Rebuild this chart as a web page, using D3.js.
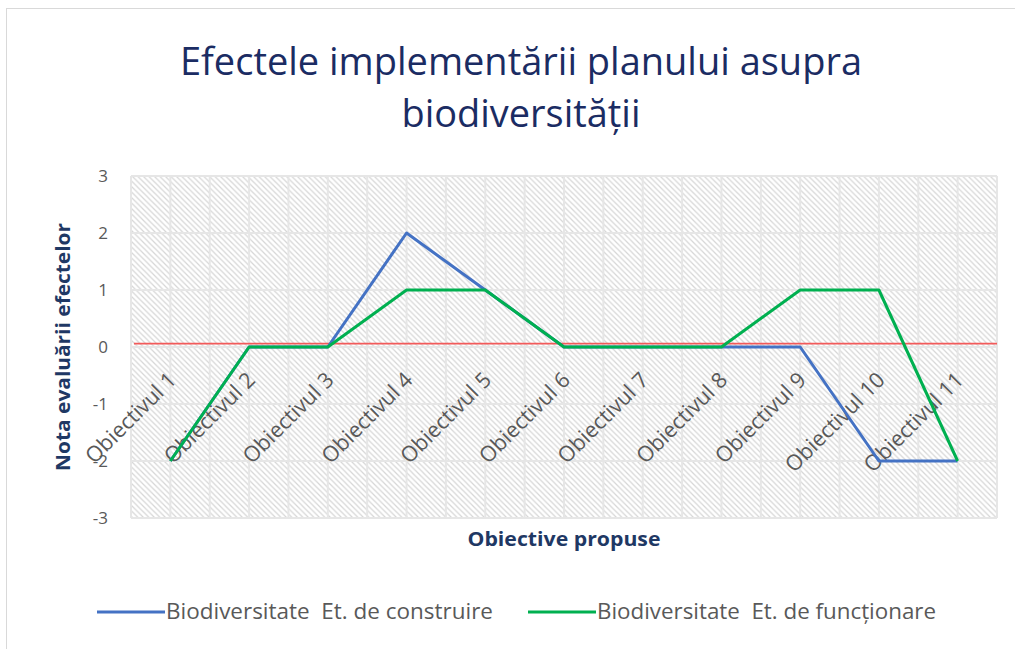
<!DOCTYPE html>
<html>
<head>
<meta charset="utf-8">
<script src="https://cdn.jsdelivr.net/npm/d3@7"></script>
<style>
  html, body { margin: 0; padding: 0; background: #fff; }
  svg { display: block; }
  text { font-family: "Open Sans", sans-serif; white-space: pre; }
</style>
</head>
<body>
<svg id="chart" width="1015" height="649"></svg>
<script>
const categories = ["Obiectivul 1","Obiectivul 2","Obiectivul 3","Obiectivul 4","Obiectivul 5","Obiectivul 6","Obiectivul 7","Obiectivul 8","Obiectivul 9","Obiectivul 10","Obiectivul 11"];
const seriesNames = ["Biodiversitate  Et. de construire", "Biodiversitate  Et. de funcționare"];
const construire = [-2, 0, 0, 2, 1, 0, 0, 0, 0, -2, -2];
const functionare = [-2, 0, 0, 1, 1, 0, 0, 0, 1, 1, -2];
const yTicks = [-3, -2, -1, 0, 1, 2, 3];
const referenceValue = 0.06;
const titleLines = ["Efectele implementării planului asupra", "biodiversității"];
const yTitle = "Nota evaluării efectelor";
const xTitle = "Obiective propuse";

const svg = d3.select("#chart");
const W = 1015, H = 649;
const margin = {left: 131, right: 18, top: 176, bottom: 131};
const x0 = margin.left, x1 = W - margin.right, y0 = margin.top, y1 = H - margin.bottom;

// squeeze a text horizontally to a given width (the reference uses a narrow face)
function fit(sel, w) {
  sel.attr("textLength", w).attr("lengthAdjust", "spacingAndGlyphs");
  return sel;
}

// chart border
svg.append("rect").attr("x", 6.5).attr("y", 8.5).attr("width", 1015).attr("height", 700)
  .attr("fill", "#fff").attr("stroke", "#d9d9d9").attr("stroke-width", 1);

// hatch pattern
const defs = svg.append("defs");
const P = 5.5;
const pat = defs.append("pattern").attr("id", "hatch").attr("patternUnits", "userSpaceOnUse")
  .attr("width", P).attr("height", P);
pat.append("rect").attr("width", P).attr("height", P).attr("fill", "#fff");
pat.append("path")
  .attr("d", `M0,0 L${P},${P} M${-P},0 L0,${P} M${P},0 L${2*P},${P} M0,${-P} L${P},0 M0,${P} L${P},${2*P}`)
  .attr("stroke", "#d6d6d6").attr("stroke-width", 1.2);

const x = d3.scaleBand().domain(categories).range([x0, x1]);
const y = d3.scaleLinear().domain([-3, 3]).range([y1, y0]);
const cx = d => x(d) + x.bandwidth() / 2;

svg.append("rect").attr("x", x0).attr("y", y0).attr("width", x1 - x0).attr("height", y1 - y0)
  .attr("fill", "url(#hatch)");

// gridlines
const gridColor = "#e6e6e6";
const vlines = [];
categories.forEach(c => { vlines.push(x(c)); vlines.push(cx(c)); });
vlines.push(x1);
svg.append("g").selectAll("line").data(vlines).join("line")
  .attr("x1", d => d).attr("x2", d => d).attr("y1", y0).attr("y2", y1)
  .attr("stroke", gridColor).attr("stroke-width", 2);
svg.append("g").selectAll("line").data(yTicks).join("line")
  .attr("x1", x0).attr("x2", x1).attr("y1", d => y(d)).attr("y2", d => y(d))
  .attr("stroke", gridColor).attr("stroke-width", 2);

// y axis labels
const yAxis = d3.axisLeft(y).tickValues(yTicks).tickSize(0).tickPadding(23).tickFormat(d => String(d));
const ya = svg.append("g").attr("transform", `translate(${x0},0)`).call(yAxis);
ya.select(".domain").remove();
ya.selectAll("text").attr("fill", "#595959").style("font-size", "17px")
  .style("font-family", "'Open Sans', sans-serif").attr("dy", "0.35em");

// x labels (rotated, hanging from the zero line)
svg.append("g").selectAll("text").data(categories).join("text")
  .attr("transform", d => `translate(${cx(d) + 2},${y(0) + 29}) rotate(-45)`)
  .attr("text-anchor", "end")
  .attr("fill", "#595959").style("font-size", "21.5px")
  .attr("dy", "0.35em")
  .text(d => d);

// red reference line
svg.append("line").attr("x1", x0 + 3).attr("x2", x1).attr("y1", y(referenceValue)).attr("y2", y(referenceValue))
  .attr("stroke", "#f25a5a").attr("stroke-width", 1.6);

// series
const line = d3.line().x((d, i) => cx(categories[i])).y(d => y(d));
const colors = ["#4472C4", "#00B050"];
[construire, functionare].forEach((s, k) => {
  svg.append("path").datum(s).attr("d", line).attr("fill", "none")
    .attr("stroke", colors[k]).attr("stroke-width", 3).attr("stroke-linejoin", "round");
});

// title
const titleW = [682, 239];
const titleY = [75, 127];
titleLines.forEach((t, i) => {
  fit(svg.append("text").attr("x", 521).attr("y", titleY[i]).attr("text-anchor", "middle")
    .attr("fill", "#1B2C63").style("font-size", "38px").text(t), titleW[i]);
});

// axis titles
fit(svg.append("text").attr("transform", `translate(70,${(y0 + y1) / 2}) rotate(-90)`)
  .attr("text-anchor", "middle").attr("fill", "#1F3864").style("font-size", "19px")
  .style("font-weight", "bold").text(yTitle), 248);
fit(svg.append("text").attr("x", 564).attr("y", 546)
  .attr("text-anchor", "middle").attr("fill", "#1F3864").style("font-size", "20px")
  .style("font-weight", "bold").text(xTitle), 193);

// legend
const legendX = [97, 528];
const legendW = [327, 339];
seriesNames.forEach((n, k) => {
  const g = svg.append("g").attr("transform", `translate(${legendX[k]},612)`);
  g.append("line").attr("x1", 0).attr("x2", 68).attr("y1", 0).attr("y2", 0)
    .attr("stroke", colors[k]).attr("stroke-width", 3);
  fit(g.append("text").attr("x", 69).attr("y", 0).attr("dy", "0.35em").attr("fill", "#595959")
    .style("font-size", "21px").text(n), legendW[k]);
});
</script>
</body>
</html>
